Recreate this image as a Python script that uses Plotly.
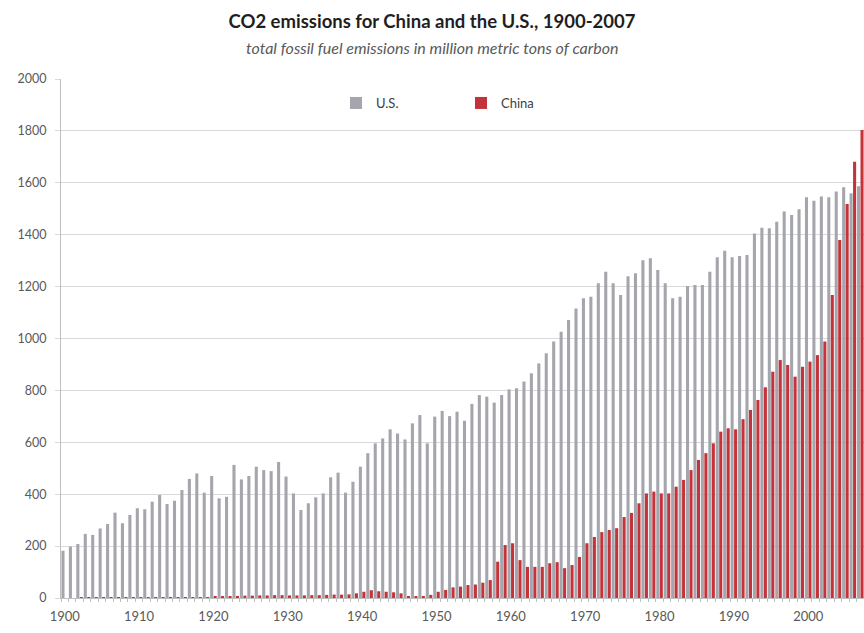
import plotly.graph_objects as go

years = list(range(1900, 2008))

us_emissions = [
    182, 198, 208, 247, 243, 268, 285, 329, 288, 320,
    346, 342, 371, 397, 362, 375, 416, 459, 480, 406,
    470, 384, 390, 513, 457, 470, 506, 493, 489, 524,
    468, 403, 339, 365, 388, 403, 465, 483, 406, 448,
    506, 558, 596, 615, 650, 634, 611, 673, 705, 596,
    699, 721, 701, 718, 683, 748, 782, 776, 753, 782,
    804, 808, 834, 866, 904, 943, 988, 1026, 1071, 1116,
    1155, 1161, 1213, 1257, 1213, 1168, 1240, 1251, 1302, 1309,
    1264, 1213, 1155, 1161, 1202, 1206, 1206, 1257, 1313, 1338,
    1313, 1318, 1322, 1405, 1427, 1425, 1450, 1489, 1476, 1498,
    1544, 1531, 1547, 1544, 1566, 1583, 1560, 1587,
]

china_emissions = [
    0, 0, 0.1, 0.2, 0.3, 0.4, 0.5, 0.6, 0.8, 1,
    1, 1.2, 1.5, 2, 2, 2.5, 3, 3, 3, 3.5,
    4, 5, 7, 8, 9, 9, 10, 10, 11, 11,
    10, 10, 10, 11, 11, 12, 13, 13, 14, 18,
    24, 30, 26, 24, 22, 18, 4, 5, 6, 12,
    24, 31, 41, 44, 50, 52, 59, 69, 140, 204,
    211, 146, 120, 120, 120, 134, 138, 115, 127, 158,
    211, 235, 254, 262, 269, 312, 328, 365, 403, 410,
    403, 403, 429, 455, 493, 532, 558, 596, 641, 654,
    650, 689, 724, 763, 812, 872, 917, 898, 853, 891,
    911, 936, 988, 1168, 1380, 1518, 1681, 1803,
]

y_ticks = [0, 200, 400, 600, 800, 1000, 1200, 1400, 1600, 1800, 2000]
x_ticks = [1900, 1910, 1920, 1930, 1940, 1950, 1960, 1970, 1980, 1990, 2000]

title_text = "CO2 emissions for China and the U.S., 1900-2007"
subtitle_text = "total fossil fuel emissions in million metric tons of carbon"

FONT = "Lato, Carlito, Calibri, 'Liberation Sans', sans-serif"
US_COLOR = "#A5A5AD"
CHINA_COLOR = "#C5333A"

fig = go.Figure()
fig.add_trace(go.Bar(
    x=years, y=us_emissions, name="U.S.",
    marker=dict(color=US_COLOR, line=dict(width=0)),
    legend="legend", showlegend=True,
))
fig.add_trace(go.Bar(
    x=years, y=china_emissions, name="China",
    marker=dict(color=CHINA_COLOR, line=dict(width=0)),
    legend="legend2", showlegend=True,
))

legend_y = (598 - 103) / 519

fig.update_layout(
    width=864, height=633,
    showlegend=True,
    margin=dict(l=61, r=0, t=79, b=35),
    paper_bgcolor="white", plot_bgcolor="white",
    barmode="group", bargap=0.06, bargroupgap=0.12,
    font=dict(family=FONT, color="#595959", size=12),
    title=dict(
        text="<b>" + title_text + "</b>",
        x=0.5, xanchor="center", xref="container",
        y=1 - 22 / 633, yanchor="middle", yref="container",
        font=dict(family=FONT, size=18.5, color="#1F1F1F"),
    ),
    annotations=[dict(
        text="<i>" + subtitle_text + "</i>",
        xref="paper", yref="paper",
        x=(432 - 61) / 803, y=(598 - 48) / 519,
        xanchor="center", yanchor="middle", showarrow=False,
        font=dict(family=FONT, size=16, color="#595959"),
    )],
    legend=dict(
        orientation="h", x=(336 - 61) / 803, y=legend_y,
        xanchor="left", yanchor="middle",
        font=dict(family=FONT, size=13, color="#404040"),
        bgcolor="rgba(0,0,0,0)", itemwidth=30,
    ),
    legend2=dict(
        orientation="h", x=(461 - 61) / 803, y=legend_y,
        xanchor="left", yanchor="middle",
        font=dict(family=FONT, size=13, color="#404040"),
        bgcolor="rgba(0,0,0,0)", itemwidth=30,
    ),
    xaxis=dict(
        range=[1899.5, 2007.5],
        tickmode="array", tickvals=x_ticks, ticktext=[str(v) for v in x_ticks],
        showgrid=False, zeroline=False,
        showline=True, linecolor="#BFBFBF", linewidth=1,
        ticks="", ticklabelstandoff=6,
        tickfont=dict(size=13, color="#595959"),
        minor=dict(ticks="outside", ticklen=3, tickcolor="#BFBFBF", dtick=1, tick0=1899.5, showgrid=False),
    ),
    yaxis=dict(
        range=[0, 2000],
        tickmode="array", tickvals=y_ticks,
        showgrid=True, gridcolor="#D9D9D9", gridwidth=1,
        zeroline=False, showline=True, linecolor="#BFBFBF", linewidth=1,
        ticks="outside", ticklen=5, tickcolor="#D9D9D9",
        ticklabelstandoff=6,
        tickfont=dict(size=12.5, color="#595959"),
    ),
)

fig.write_html(
    "out.html",
    config={"displayModeBar": False},
    post_script="document.body.style.margin='0';document.body.style.overflow='hidden';",
)
